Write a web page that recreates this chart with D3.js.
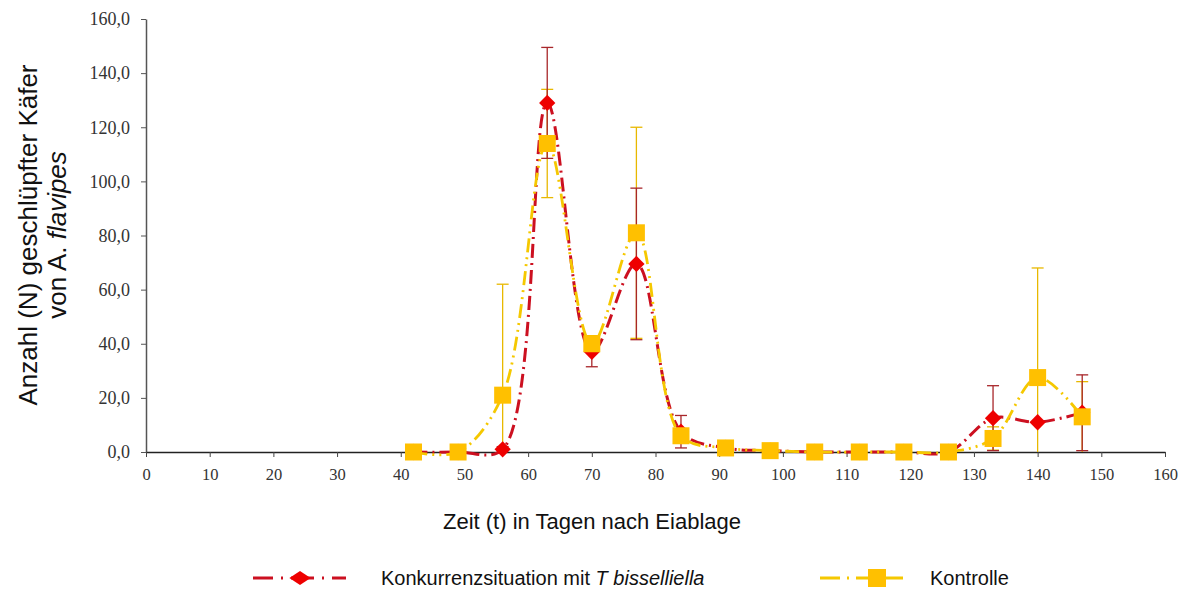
<!DOCTYPE html>
<html><head><meta charset="utf-8">
<script src="https://cdn.jsdelivr.net/npm/d3@7"></script>
<style>body{margin:0;background:#fff}svg{display:block}</style>
</head><body>
<svg id="c" width="1189" height="589"></svg>
<script>
const days = [42,49,56,63,70,77,84,91,98,105,112,119,126,133,140,147];
const konkurrenz = [0,0,1,129,37,69.5,7.5,1.5,0.5,0,0,0,0,12.5,11,14.5];
const konkurrenzErr = [0,0,1,20.5,5.5,28,6,0.5,0,0,0,0,0,12,0,14];
const kontrolle = [0,0,21,114,40,81,6,1.5,0.5,0,0,0,0,5,27.5,13];
const kontrolleErr = [0,0,41,20,3,39,1,0.5,0,0,0,0,0,4.3,40.5,13];
const xTicks = d3.range(0,161,10);
const yTicks = d3.range(0,161,20);

const svg = d3.select("#c");
const x = d3.scaleLinear().domain([0,160]).range([146,1165]);
const y = d3.scaleLinear().domain([0,160]).range([452,19]);
const fmt = v => d3.format(".1f")(v).replace(".", ",");

// axes
const gy = svg.append("g").attr("transform","translate(146,0)")
  .call(d3.axisLeft(y).tickValues(yTicks).tickFormat(fmt).tickSize(5).tickSizeOuter(0));
gy.select(".domain").attr("stroke","#555").attr("stroke-width",1.5);
gy.selectAll(".tick line").attr("stroke","#555");
gy.selectAll("text").attr("font-family","Liberation Serif").attr("font-size",18).attr("fill","#333").attr("x",-16);

const gx = svg.append("g").attr("transform","translate(0,452)")
  .call(d3.axisBottom(x).tickValues(xTicks).tickFormat(d3.format("d")).tickSize(5).tickSizeOuter(0));
gx.select(".domain").attr("stroke","#222").attr("stroke-width",1.5);
gx.selectAll(".tick line").attr("stroke","#444");
gx.selectAll("text").attr("font-family","Liberation Serif").attr("font-size",16.5).attr("fill","#333").attr("y",16);

// titles
svg.append("text").attr("x",592).attr("y",529).attr("text-anchor","middle")
  .attr("font-family","Liberation Sans").attr("font-size",22).attr("fill","#111")
  .text("Zeit (t) in Tagen nach Eiablage");
const yt = svg.append("text").attr("transform","translate(37,235) rotate(-90)")
  .attr("text-anchor","middle").attr("font-family","Liberation Sans").attr("font-size",26).attr("fill","#111");
yt.append("tspan").attr("x",0).attr("dy",0).text("Anzahl (N) geschlüpfter Käfer");
const t2 = yt.append("tspan").attr("x",0).attr("dy",29);
t2.append("tspan").text("von A. ");
t2.append("tspan").attr("font-style","italic").text("flavipes");

const series = [
  {vals:kontrolle, err:kontrolleErr, line:"#f5c800", errC:"#e8b800", dash:"14,5,2,5,2,5", w:2.8},
  {vals:konkurrenz, err:konkurrenzErr, line:"#cc1020", errC:"#a8262a", dash:"14,5,2,5", w:3}
];

// error bars
series.forEach(s=>{
  const g = svg.append("g");
  days.forEach((d,i)=>{
    if(!s.err[i]) return;
    const lo = Math.max(0, s.vals[i]-s.err[i]), hi = s.vals[i]+s.err[i];
    g.append("line").attr("x1",x(d)).attr("x2",x(d)).attr("y1",y(lo)).attr("y2",y(hi)).attr("stroke",s.errC).attr("stroke-width",1.3);
    [lo,hi].forEach(v=>{ if(v>0) g.append("line").attr("x1",x(d)-6).attr("x2",x(d)+6).attr("y1",y(v)).attr("y2",y(v)).attr("stroke",s.errC).attr("stroke-width",1.3);});
  });
});

// lines
const line = d3.line().x((d,i)=>x(days[i])).y(d=>y(d)).curve(d3.curveCatmullRom.alpha(0.5));
series.slice().reverse().forEach(s=>{
  svg.append("path").attr("d",line(s.vals)).attr("fill","none").attr("stroke",s.line)
    .attr("stroke-width",s.w).attr("stroke-dasharray",s.dash);
});

// markers
const diamond = d3.symbol().type(d3.symbolDiamond2).size(170);
svg.append("g").selectAll("path").data(konkurrenz).join("path")
  .attr("d",diamond).attr("transform",(d,i)=>`translate(${x(days[i])},${y(d)})`)
  .attr("fill","#ee0000");
svg.append("g").selectAll("rect").data(kontrolle).join("rect")
  .attr("x",(d,i)=>x(days[i])-8.5).attr("y",d=>y(d)-8.5).attr("width",17).attr("height",17)
  .attr("fill","#ffc000");

// legend
const ly = 578;
const lg = svg.append("g");
lg.append("line").attr("x1",253).attr("x2",346).attr("y1",ly).attr("y2",ly).attr("stroke","#cc1020").attr("stroke-width",3).attr("stroke-dasharray","20,8,2,8,23,8,2,8,20");
lg.append("path").attr("d",diamond).attr("transform",`translate(300,${ly}) scale(1.3,0.85)`).attr("fill","#ee0000");
const lt = lg.append("text").attr("x",381).attr("y",ly+7).attr("font-family","Liberation Sans").attr("font-size",20).attr("fill","#111");
lt.append("tspan").text("Konkurrenzsituation mit ");
lt.append("tspan").attr("font-style","italic").text("T bisselliella");
lg.append("line").attr("x1",820).attr("x2",903).attr("y1",ly).attr("y2",ly).attr("stroke","#f5c800").attr("stroke-width",2.8).attr("stroke-dasharray","20,7,2,7,48");
lg.append("rect").attr("x",877-9).attr("y",ly-9).attr("width",18).attr("height",18).attr("fill","#ffc000");
lg.append("text").attr("x",930).attr("y",ly+7).attr("font-family","Liberation Sans").attr("font-size",20).attr("fill","#111").text("Kontrolle");
</script>
</body></html>
